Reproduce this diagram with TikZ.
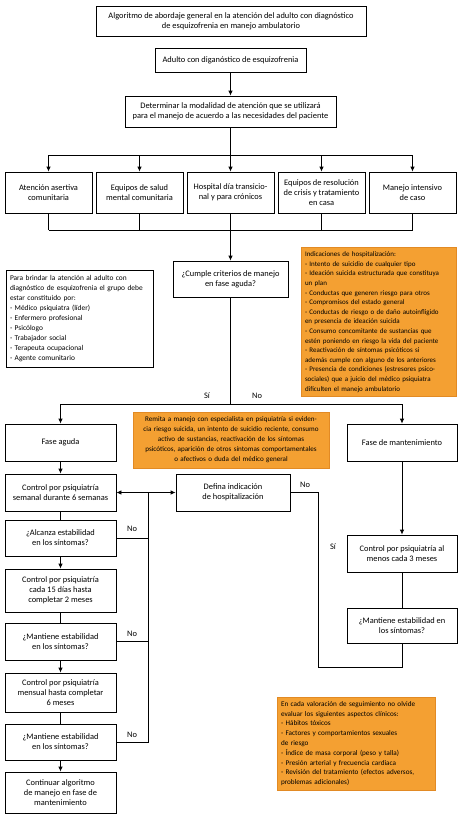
\documentclass[tikz,border=0pt]{standalone}
\usepackage{fontspec}
\setmainfont{Carlito}
\usepackage{tikz}
\usetikzlibrary{arrows.meta}
\definecolor{naranja}{RGB}{244,160,50}
\definecolor{naranjaborde}{RGB}{226,138,36}
\tikzset{
  caja/.style={draw, line width=0.8pt, align=center, inner sep=2pt, font=\fontsize{8.4}{10}\selectfont},
  nota/.style={draw, line width=0.6pt, align=left, inner sep=4pt, font=\fontsize{7.4}{10}\selectfont},
  notanaranja/.style={nota, fill=naranja, draw=naranjaborde, font=\fontsize{7}{9.6}\selectfont},
  etiq/.style={font=\fontsize{8.4}{10}\selectfont},
  flecha/.style={-{Latex[length=5pt,width=4.5pt]}},
  dobleflecha/.style={{Latex[length=5pt,width=4.5pt]}-{Latex[length=5pt,width=4.5pt]}},
}

\begin{document}
\begin{tikzpicture}[x=1pt, y=-1pt, line width=0.8pt]
  \useasboundingbox (0,0) rectangle (466,819);

  % encabezado
  \node[caja, minimum width=270pt, minimum height=30pt] (titulo) at (231,21)
    {Algoritmo de abordaje general en la atención del adulto con diagnóstico\\ de esquizofrenia en manejo ambulatorio};
  \node[caja, minimum width=151pt, minimum height=24pt] (adulto) at (230.5,60)
    {Adulto con diganóstico de esquizofrenia};
  \node[caja, minimum width=211pt, minimum height=31pt] (modalidad) at (230.5,111.5)
    {Determinar la modalidad de atención que se utilizará\\ para el manejo de acuerdo a las necesidades del paciente};
  \draw[flecha] (adulto) -- (modalidad);

  % modalidades de atencion
  \node[caja, minimum width=87pt, minimum height=41pt] (aac) at (48.5,192.5) {Atención asertiva\\ comunitaria};
  \node[caja, minimum width=87pt, minimum height=41pt] (esm) at (139.5,192.5) {Equipos de salud\\ mental comunitaria};
  \node[caja, minimum width=87pt, minimum height=41pt] (hdt) at (230.5,192.5) {Hospital día transicio-\\ nal y para crónicos};
  \node[caja, minimum width=87pt, minimum height=41pt] (erc) at (321.5,192.5) {Equipos de resolución\\ de crisis y tratamiento\\ en casa};
  \node[caja, minimum width=87pt, minimum height=41pt] (mic) at (412.5,192.5) {Manejo intensivo\\ de caso};

  \coordinate (rama) at (230.5,155);
  \coordinate (union) at (230.5,230);
  \draw (modalidad) -- (rama);
  \draw (aac |- rama) -- (mic |- rama);
  \draw (aac |- union) -- (mic |- union);
  \foreach \m in {aac, esm, hdt, erc, mic} {
    \draw[flecha] (\m |- rama) -- (\m);
    \draw (\m) -- (\m |- union);
  }

  \node[caja, minimum width=115pt, minimum height=36pt] (criterios) at (230.5,279)
    {¿Cumple criterios de manejo\\ en fase aguda?};
  \draw[flecha] (union) -- (criterios);

  % notas
  \node[nota, text width=139pt, minimum height=97pt] (equipo) at (79.5,318.5)
    {Para brindar la atención al adulto con\\ diagnóstico de esquizofrenia el grupo debe\\ estar constituido por:\\
     - Médico psiquiatra (líder)\\ - Enfermero profesional\\ - Psicólogo\\ - Trabajador social\\
     - Terapeuta ocupacional\\ - Agente comunitario};
  \node[notanaranja, text width=147pt, minimum height=148pt] (indicaciones) at (378.5,322)
    {Indicaciones de hospitalización:\\ - Intento de suicidio de cualquier tipo\\
     - Ideación suicida estructurada que constituya\\ un plan\\ - Conductas que generen riesgo para otros\\
     - Compromisos del estado general\\ - Conductas de riesgo o de daño autoinfligido\\
     en presencia de ideación suicida\\ - Consumo concomitante de sustancias que\\
     estén poniendo en riesgo la vida del paciente\\ - Reactivación de síntomas psicóticos si\\
     además cumple con alguno de los anteriores\\ - Presencia de condiciones (estresores psico-\\
     sociales) que a juicio del médico psiquiatra\\ dificulten el manejo ambulatorio};

  % fases
  \coordinate (division) at (230.5,404);
  \draw (criterios) -- (division);
  \node[etiq] (si1) at (207,396) {Sí};
  \node[etiq] (no1) at (257,396) {No};
  \node[caja, minimum width=111pt, minimum height=37pt] (aguda) at (60.5,442.5) {Fase aguda};
  \node[caja, minimum width=110pt, minimum height=37pt] (mantenimiento) at (402,442.5) {Fase de mantenimiento};
  \draw[flecha] (division) -| (aguda);
  \draw[flecha] (division) -| (mantenimiento);

  \node[notanaranja, align=center, text width=188pt, minimum height=56pt, font=\fontsize{7.1}{10}\selectfont] (remita) at (231,440)
    {Remita a manejo con especialista en psiquiatría si eviden-\\ cia riesgo suicida, un intento de suicidio reciente, consumo\\
     activo de sustancias, reactivación de los síntomas\\ psicóticos, aparición de otros síntomas comportamentales\\
     o afectivos o duda del médico general};

  % fase aguda
  \node[caja, minimum width=111pt, minimum height=37pt] (control1) at (60.5,492.5) {Control por psiquiatría\\ semanal durante 6 semanas};
  \node[caja, minimum width=114pt, minimum height=37pt] (defina) at (233,492.5) {Defina indicación\\ de hospitalización};
  \node[caja, minimum width=111pt, minimum height=36pt] (alcanza) at (60.5,538) {¿Alcanza estabilidad\\ en los síntomas?};
  \node[caja, minimum width=111pt, minimum height=43pt] (control2) at (60.5,590.5) {Control por psiquiatría\\ cada 15 días hasta\\ completar 2 meses};
  \node[caja, minimum width=111pt, minimum height=37pt] (mantiene1) at (60.5,641.5) {¿Mantiene estabilidad\\ en los síntomas?};
  \node[caja, minimum width=111pt, minimum height=39pt] (control3) at (60.5,692.5) {Control por psiquiatría\\ mensual hasta completar\\ 6 meses};
  \node[caja, minimum width=111pt, minimum height=36pt] (mantiene2) at (60.5,742) {¿Mantiene estabilidad\\ en los síntomas?};
  \node[caja, minimum width=111pt, minimum height=41pt] (continuar) at (60.5,792.5) {Continuar algoritmo\\ de manejo en fase de\\ mantenimiento};

  \draw[flecha] (aguda) -- (control1);
  \draw (control1) -- (alcanza);
  \draw[flecha] (alcanza) -- (control2);
  \draw (control2) -- (mantiene1);
  \draw[flecha] (mantiene1) -- (control3);
  \draw (control3) -- (mantiene2);
  \draw[flecha] (mantiene2) -- (continuar);

  \draw[dobleflecha] (control1) -- (defina);
  \coordinate (retorno) at (148,492.5);
  \draw (mantiene2.east) -| (retorno);
  \draw (alcanza.east) -- (alcanza.east -| retorno);
  \draw (mantiene1.east) -- (mantiene1.east -| retorno);
  \node[etiq] (no2) at (132,529) {No};
  \node[etiq] (no3) at (132,634) {No};
  \node[etiq] (no4) at (132,735) {No};

  % fase de mantenimiento
  \node[caja, minimum width=110pt, minimum height=37pt] (control4) at (402,553.5) {Control por psiquiatría al\\ menos cada 3 meses};
  \node[caja, minimum width=110pt, minimum height=35pt] (mantiene3) at (402,625.5) {¿Mantiene estabilidad en\\ los síntomas?};
  \draw[flecha] (mantenimiento) -- (control4);
  \draw (control4) -- (mantiene3);
  \coordinate (ciclo) at (318,667);
  \draw (defina) -| (ciclo) -| (mantiene3);
  \node[etiq] (no5) at (305,485) {No};
  \node[etiq] (si2) at (333,547) {Sí};

  \node[notanaranja, text width=150pt, minimum height=93pt, font=\fontsize{7.2}{9.8}\selectfont] (seguimiento) at (356,743.5)
    {En cada valoración de seguimiento no olvide\\ evaluar los siguientes aspectos clínicos:\\
     - Hábitos tóxicos\\ - Factores y comportamientos sexuales\\ de riesgo\\
     - Índice de masa corporal (peso y talla)\\ - Presión arterial y frecuencia cardiaca\\
     - Revisión del tratamiento (efectos adversos,\\ problemas adicionales)};
\end{tikzpicture}
\end{document}
